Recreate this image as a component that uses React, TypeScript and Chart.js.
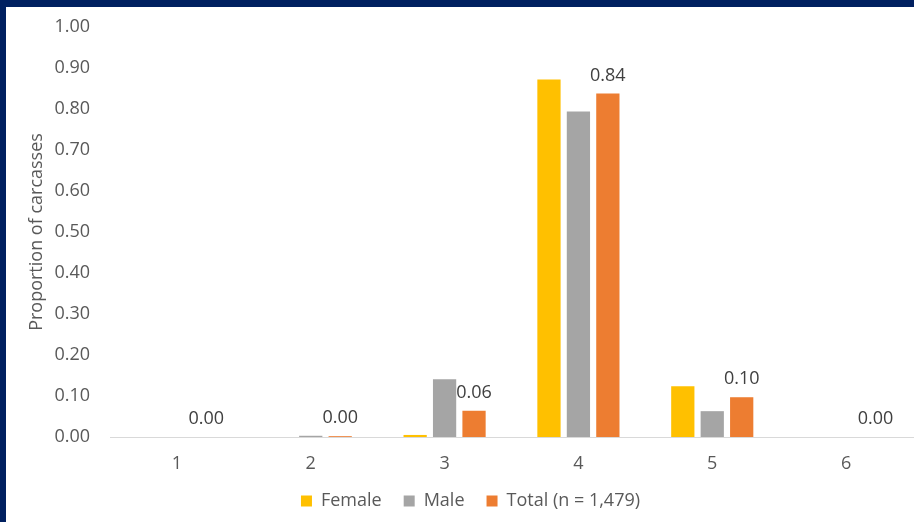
import React, { useEffect, useRef } from "react";
import { Chart, registerables } from "chart.js";

Chart.register(...registerables);

const categories = ["1", "2", "3", "4", "5", "6"];
const femaleValues = [0, 0, 0.005, 0.872, 0.124, 0];
const maleValues = [0, 0.003, 0.141, 0.794, 0.063, 0];
const totalValues = [0, 0.002, 0.064, 0.838, 0.097, 0];
const seriesNames = ["Female", "Male", "Total (n = 1,479)"];
const seriesColors = ["#FFC000", "#A5A5A5", "#ED7D31"];
const yAxisTitle = "Proportion of carcasses";

const FONT = "'Open Sans', 'Noto Sans', sans-serif";

const totalLabelsPlugin = {
  id: "totalLabels",
  afterDatasetsDraw(chart: any) {
    const ctx = chart.ctx;
    const meta = chart.getDatasetMeta(2);
    const data = chart.data.datasets[2].data as number[];
    ctx.save();
    ctx.font = `18px ${FONT}`;
    ctx.fillStyle = "#404040";
    ctx.textAlign = "center";
    ctx.textBaseline = "middle";
    meta.data.forEach((el: any, i: number) => {
      ctx.fillText(Number(data[i]).toFixed(2), el.x, el.y - 18);
    });
    ctx.restore();
  },
};

export default function App() {
  const ref = useRef<HTMLCanvasElement>(null);

  useEffect(() => {
    if (!ref.current) return;
    const chart = new Chart(ref.current, {
      type: "bar",
      data: {
        labels: categories,
        datasets: [
          { label: seriesNames[0], data: femaleValues, backgroundColor: seriesColors[0] },
          { label: seriesNames[1], data: maleValues, backgroundColor: seriesColors[1] },
          { label: seriesNames[2], data: totalValues, backgroundColor: seriesColors[2] },
        ],
      },
      options: {
        responsive: false,
        animation: false,
        devicePixelRatio: 1,
        datasets: {
          bar: { categoryPercentage: 0.66, barPercentage: 0.79 },
        },
        layout: { padding: { left: 22, right: 1, top: 20, bottom: 2 } },
        plugins: {
          tooltip: { enabled: false },
          legend: {
            position: "bottom",
            labels: {
              boxWidth: 11,
              boxHeight: 11,
              padding: 22,
              color: "#595959",
              font: { family: FONT, size: 18 },
            },
          },
        },
        scales: {
          x: {
            grid: { display: false, drawTicks: false },
            border: { display: true, color: "#D9D9D9", width: 1 },
            ticks: { color: "#595959", font: { family: FONT, size: 18 }, padding: 16 },
            afterFit: (s: any) => {
              s.height = 33;
            },
          },
          y: {
            min: 0,
            max: 1,
            grid: { display: false, drawTicks: false },
            border: { display: false },
            ticks: {
              stepSize: 0.1,
              color: "#595959",
              font: { family: FONT, size: 18 },
              padding: 20,
              callback: (v: any) => Number(v).toFixed(2),
            },
            title: {
              display: true,
              text: yAxisTitle,
              color: "#595959",
              font: { family: FONT, size: 18, lineHeight: 1 },
              padding: { top: 0, bottom: 0 },
            },
            afterFit: (s: any) => {
              s.width = 82;
              s.paddingTop = 0;
              s.paddingBottom = 0;
            },
          },
        },
      },
      plugins: [totalLabelsPlugin],
    });
    return () => chart.destroy();
  }, []);

  return (
    <div
      style={{
        position: "fixed",
        left: 0,
        top: 0,
        width: 914,
        height: 522,
        background: "#002060",
        overflow: "hidden",
      }}
    >
      <div
        style={{
          position: "absolute",
          left: 6,
          top: 7,
          width: 908,
          height: 515,
          background: "#FFFFFF",
          overflow: "hidden",
        }}
      >
        <canvas ref={ref} width={908} height={515} style={{ display: "block" }} />
      </div>
    </div>
  );
}
